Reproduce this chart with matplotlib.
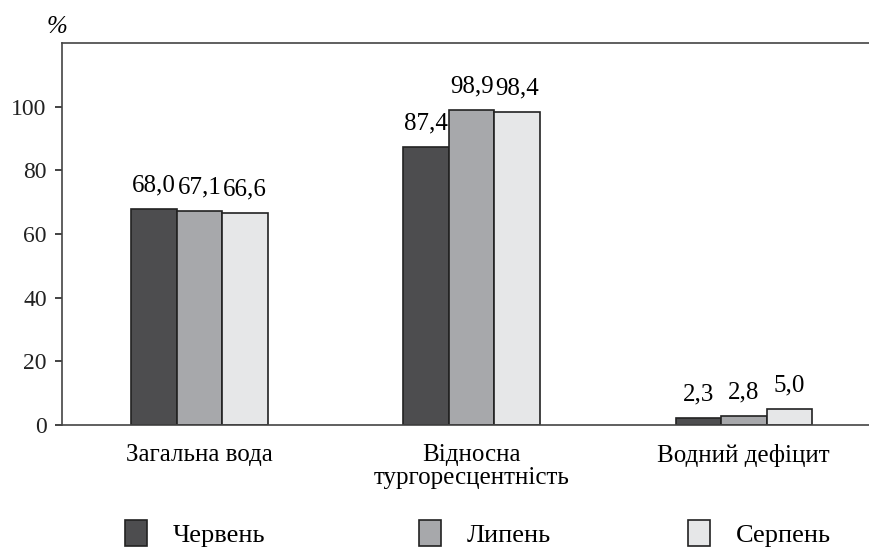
import matplotlib.pyplot as plt
import numpy as np

plt.rcParams['font.family'] = ['Liberation Serif', 'DejaVu Serif']

categories = ['Загальна вода', 'Відносна\nтургоресцентність', 'Водний дефіцит']
series_names = ['Червень', 'Липень', 'Серпень']
june = [68.0, 87.4, 2.3]
july = [67.1, 98.9, 2.8]
august = [66.6, 98.4, 5.0]
labels = [['68,0', '87,4', '2,3'], ['67,1', '98,9', '2,8'], ['66,6', '98,4', '5,0']]
colors = ['#4d4d4f', '#a7a8ab', '#e6e7e8']
yticks = [0, 20, 40, 60, 80, 100]

fig = plt.figure(figsize=(8.69, 5.5), dpi=100)
ax = fig.add_axes([62 / 869, 1 - 425 / 550, 807 / 869, 382 / 550])

x = np.arange(len(categories))
w = 0.167
bars = []
for i, vals in enumerate([june, july, august]):
    b = ax.bar(x + (i - 1) * w, vals, w, color=colors[i], edgecolor='#222222', linewidth=1.2,
               label=series_names[i])
    bars.append(b)
    for xi, v, t in zip(x + (i - 1) * w, vals, labels[i]):
        ax.annotate(t, (xi, v), xytext=(0, 9), textcoords='offset points',
                    ha='center', va='bottom', fontsize=18)

ax.set_xlim(-0.505, 2.46)
ax.set_ylim(0, 120)
ax.set_yticks(yticks)
ax.set_xticks(x)
ax.set_xticklabels(categories, fontsize=18, linespacing=1.05)
ax.tick_params(axis='x', length=0, pad=14)
ax.tick_params(axis='y', length=5, width=1.2, labelsize=17, colors='#222222', pad=6)
for s in ['top', 'left', 'bottom']:
    ax.spines[s].set_linewidth(1.2)
    ax.spines[s].set_color('#444444')
ax.spines['right'].set_visible(False)

fig.text(47 / 869, 1 - 27 / 550, '%', fontsize=18, style='italic', va='center')

legend_x = [125, 419, 688]
for b, lx in zip(bars, legend_x):
    fig.legend(handles=[b], loc='lower left', bbox_to_anchor=(lx / 869, 0.006),
               frameon=False, fontsize=19, handlelength=0.85, handleheight=1.15,
               handletextpad=0.95, borderpad=0, borderaxespad=0)

fig.savefig('out.png', dpi=100)
